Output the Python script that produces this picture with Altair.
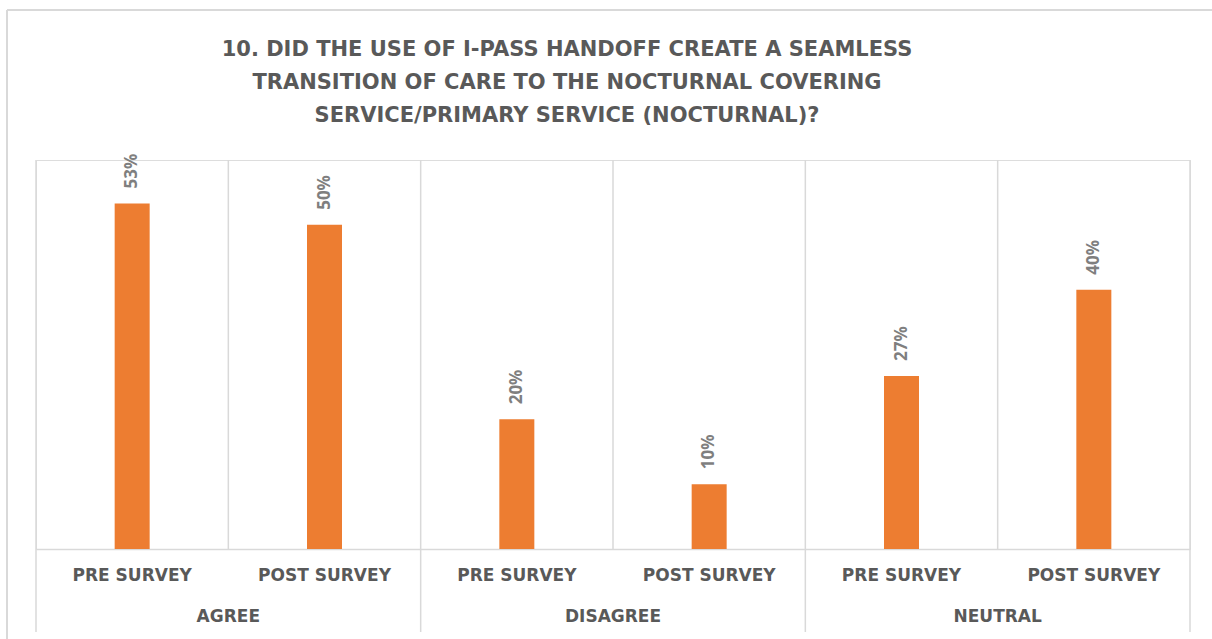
import altair as alt
import pandas as pd

groups = ["AGREE", "AGREE", "DISAGREE", "DISAGREE", "NEUTRAL", "NEUTRAL"]
subs = ["PRE SURVEY", "POST SURVEY", "PRE SURVEY", "POST SURVEY", "PRE SURVEY", "POST SURVEY"]
values = [0.533, 0.50, 0.20, 0.10, 0.267, 0.40]
group_names = ["AGREE", "DISAGREE", "NEUTRAL"]
title_lines = [
    "10.  DID THE USE OF I-PASS HANDOFF CREATE A SEAMLESS",
    "TRANSITION OF CARE TO THE NOCTURNAL COVERING",
    "SERVICE/PRIMARY SERVICE (NOCTURNAL)?",
]

keys = [g + "|" + s for g, s in zip(groups, subs)]
df = pd.DataFrame({"key": keys, "group": groups, "sub": subs, "value": values})
pre_df = df[df["sub"] == "PRE SURVEY"]
post_df = df[df["sub"] == "POST SURVEY"]
last_df = df.iloc[[-1]]

W, H = 1154, 389
STEP = W / len(keys)
LINE = "#D9D9D9"
TXT = "#595959"
FONT = "DejaVu Sans"

xs = alt.Scale(domain=keys, paddingInner=0, paddingOuter=0)
ys = alt.Scale(domain=[0, 0.6])

base = alt.Chart(df)

bars = base.mark_bar(width=35, color="#ED7D31").encode(
    x=alt.X("key:N", scale=xs, sort=keys,
            axis=alt.Axis(title=None, labelExpr="split(datum.label, '|')[1]",
                          labelAngle=0, labelAlign="center", ticks=False,
                          domainColor=LINE, domainWidth=1.5,
                          labelFont=FONT, labelFontSize=17, labelFontWeight="bold",
                          labelColor=TXT, labelPadding=18, labelBaseline="top", grid=False)),
    y=alt.Y("value:Q", scale=ys, axis=None),
)

labels = base.mark_text(angle=270, align="left", baseline="middle", dx=15,
                        font="Open Sans", fontSize=17, fontWeight="bold",
                        color="#7F7F7F").encode(
    x=alt.X("key:N", scale=xs, sort=keys),
    y=alt.Y("value:Q", scale=ys),
    text=alt.Text("value:Q", format=".0%"),
)

group_text = alt.Chart(pre_df).mark_text(dx=STEP / 2, font=FONT, fontSize=17,
                                         fontWeight="bold", color=TXT,
                                         baseline="middle").encode(
    x=alt.X("key:N", scale=xs, sort=keys),
    y=alt.value(457),
    text="group:N",
)

long_sep = alt.Chart(pre_df).mark_rule(color=LINE, strokeWidth=1.5).encode(
    x=alt.X("key:N", scale=xs, sort=keys, bandPosition=0),
    y=alt.value(0), y2=alt.value(472),
)
short_sep = alt.Chart(post_df).mark_rule(color=LINE, strokeWidth=1.5).encode(
    x=alt.X("key:N", scale=xs, sort=keys, bandPosition=0),
    y=alt.value(0), y2=alt.value(389),
)
right_sep = alt.Chart(last_df).mark_rule(color=LINE, strokeWidth=1.5).encode(
    x=alt.X("key:N", scale=xs, sort=keys, bandPosition=1),
    y=alt.value(0), y2=alt.value(472),
)

border_top = alt.Chart(last_df).mark_rule(color=LINE, strokeWidth=2).encode(
    x=alt.value(-29), x2=alt.value(1200), y=alt.value(-150),
)
border_left = alt.Chart(last_df).mark_rule(color=LINE, strokeWidth=2).encode(
    x=alt.value(-29), y=alt.value(-150), y2=alt.value(480),
)

chart = alt.layer(
    border_top, border_left, long_sep, short_sep, right_sep, bars, labels, group_text
).properties(
    width=W, height=H,
    title=alt.TitleParams(text=title_lines, font=FONT, fontSize=21, fontWeight="bold",
                          color=TXT, lineHeight=33, anchor="middle", frame="group",
                          dx=-46, baseline="top", offset=-117),
    autosize=alt.AutoSizeParams(type="none"),
    padding={"left": 36, "top": 160, "right": 22, "bottom": 90},
).configure_view(stroke=None).configure(background="white")

chart.save("out.html", embed_options={"renderer": "svg", "actions": False})
